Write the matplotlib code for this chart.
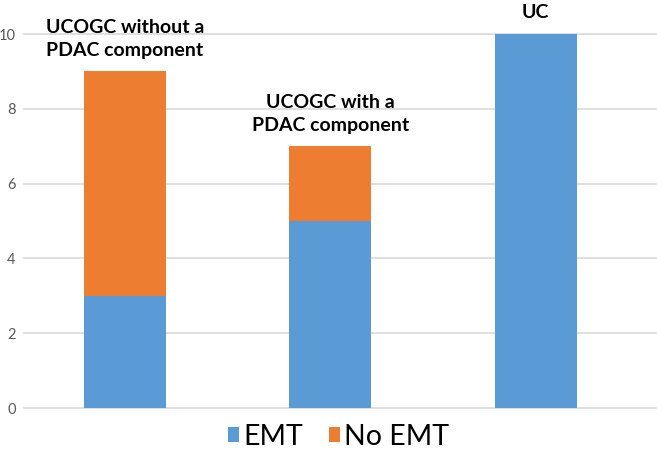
import matplotlib.pyplot as plt
import numpy as np

# Data
groups = ['UCOGC without a\nPDAC component', 'UCOGC with a\nPDAC component', 'UC']
emt = [3, 5, 10]
no_emt = [6, 2, 0]
y_ticks = [0, 2, 4, 6, 8, 10]

colors = {'EMT': '#5B9BD5', 'No EMT': '#ED7D31'}

plt.rcParams['font.family'] = ['Lato', 'DejaVu Sans']

fig = plt.figure(figsize=(6.57, 4.57), dpi=100)
ax = fig.add_axes([24 / 657, 49 / 457, 1 - 24 / 657, 374 / 457])

x = np.arange(len(groups))
width = 0.4
ax.bar(x, emt, width, color=colors['EMT'], label='EMT', zorder=2)
ax.bar(x, no_emt, width, bottom=emt, color=colors['No EMT'], label='No EMT', zorder=2)

# Labels above each stack
for xi, label, a, b in zip(x, groups, emt, no_emt):
    ax.annotate(label, xy=(xi, a + b), xytext=(0, 9), textcoords='offset points',
                ha='center', va='bottom', fontsize=14, fontweight='bold',
                color='black', linespacing=1.4, annotation_clip=False)

ax.set_xlim(-0.49, 2.59)
ax.set_ylim(0, 10)
ax.set_yticks(y_ticks)
ax.set_xticks([])
ax.tick_params(axis='y', length=0, labelsize=10.5, labelcolor='#595959', pad=6)
ax.grid(axis='y', color='#d9d9d9', linewidth=1.2, zorder=0)
for s in ax.spines.values():
    s.set_visible(False)
for line in ax.get_ygridlines():
    line.set_clip_on(False)

fig.legend(loc='lower center', bbox_to_anchor=(0.515, -0.04), ncol=2, frameon=False,
           fontsize=20.5, handlelength=0.4, handleheight=0.4, handletextpad=0.15,
           columnspacing=0.9)

plt.savefig('out.png', dpi=100)
